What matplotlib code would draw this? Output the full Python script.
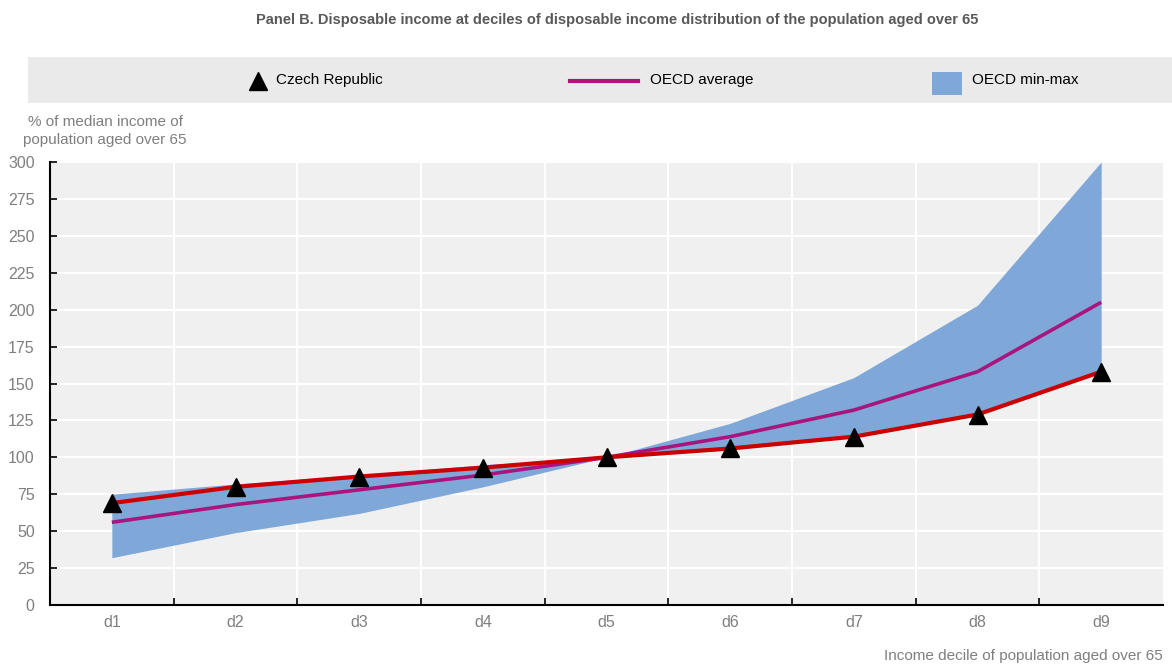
import matplotlib
matplotlib.use("Agg")
import matplotlib.pyplot as plt
from matplotlib.patches import Rectangle
from matplotlib import font_manager

deciles = ["d1", "d2", "d3", "d4", "d5", "d6", "d7", "d8", "d9"]
czech = [69, 80, 87, 93, 100, 106, 114, 129, 158]
oecd_avg = [56, 68, 78, 88, 100, 114, 132, 158, 205]
oecd_min = [32, 49, 62, 80, 100, 105, 114, 129, 158]
oecd_max = [75, 82, 88, 95, 100, 123, 154, 203, 300]
y_ticks = [0, 25, 50, 75, 100, 125, 150, 175, 200, 225, 250, 275, 300]

available = {f.name for f in font_manager.fontManager.ttflist}
family = ["Liberation Sans Narrow", "Liberation Sans", "DejaVu Sans"]
family = [f for f in family if f in available] or ["DejaVu Sans"]
plt.rcParams["font.family"] = family

GREY_TXT = "#7f7f7f"
RED = "#cc0000"
PURPLE = "#a8157e"
BLUE = "#7fa8d8"

W, H = 1172, 666
fig = plt.figure(figsize=(W / 100, H / 100), dpi=100)
ax = fig.add_axes([50 / W, 1 - 605 / H, (1163 - 50) / W, (605 - 162) / H])

x = list(range(len(deciles)))
ax.set_facecolor("#f0f0f0")
ax.fill_between(x, oecd_min, oecd_max, color=BLUE, linewidth=0, zorder=2)
ax.plot(x, oecd_avg, color=PURPLE, lw=2.6, zorder=3, solid_capstyle="butt")
ax.plot(x, czech, color=RED, lw=3.0, zorder=4, solid_capstyle="butt")
ax.plot(x, czech, linestyle="none", marker="^", color="black", ms=13, zorder=5)

ax.set_xlim(-0.5, len(deciles) - 0.5)
ax.set_ylim(0, 300)
ax.set_yticks(y_ticks)
ax.set_yticklabels([str(v) for v in y_ticks])
ax.set_xticks(x)
ax.set_xticklabels(deciles)
ax.set_xticks([i + 0.5 for i in range(len(deciles) - 1)], minor=True)

ax.grid(axis="y", which="major", color="white", lw=1.5, zorder=1)
ax.grid(axis="x", which="minor", color="white", lw=1.5, zorder=1)
ax.set_axisbelow(True)

ax.tick_params(axis="x", which="major", length=0, pad=7, labelsize=11.5, labelcolor=GREY_TXT)
ax.tick_params(axis="x", which="minor", direction="in", length=5, width=1.2, color="black")
ax.tick_params(axis="y", direction="in", length=5, width=1.2, color="black",
               labelsize=11.5, labelcolor=GREY_TXT, pad=11)
for s in ("top", "right"):
    ax.spines[s].set_visible(False)
for s in ("left", "bottom"):
    ax.spines[s].set_color("black")
    ax.spines[s].set_linewidth(1.5)

# Title
fig.text(617 / W, 1 - 20 / H, "Panel B. Disposable income at deciles of disposable income distribution of the population aged over 65",
         ha="center", va="center", fontsize=10.5, fontweight="bold", color="#595959")

# Legend band
lax = fig.add_axes([28 / W, 1 - 103 / H, (1172 - 28) / W, (103 - 57) / H])
lax.set_xlim(28, 1172)
lax.set_ylim(103, 57)
lax.set_facecolor("#eaeaea")
for s in lax.spines.values():
    s.set_visible(False)
lax.set_xticks([])
lax.set_yticks([])
lax.plot([258], [81], marker="^", color="black", ms=13, linestyle="none")
lax.text(276, 80, "Czech Republic", fontsize=11, color="black", va="center", ha="left")
lax.plot([570, 638], [81, 81], color=PURPLE, lw=3)
lax.text(650, 80, "OECD average", fontsize=11, color="black", va="center", ha="left")
lax.add_patch(Rectangle((932, 72), 30, 23, color=BLUE, lw=0))
lax.text(972, 80, "OECD min-max", fontsize=11, color="black", va="center", ha="left")

# Axis titles
fig.text(105 / W, 1 - 131 / H, "% of median income of\npopulation aged over 65",
         ha="center", va="center", multialignment="center",
         fontsize=11, color=GREY_TXT, linespacing=1.3)
fig.text(1163 / W, 1 - 656 / H, "Income decile of population aged over 65",
         ha="right", va="center", fontsize=11, color=GREY_TXT)

fig.savefig("out.png", dpi=100)
